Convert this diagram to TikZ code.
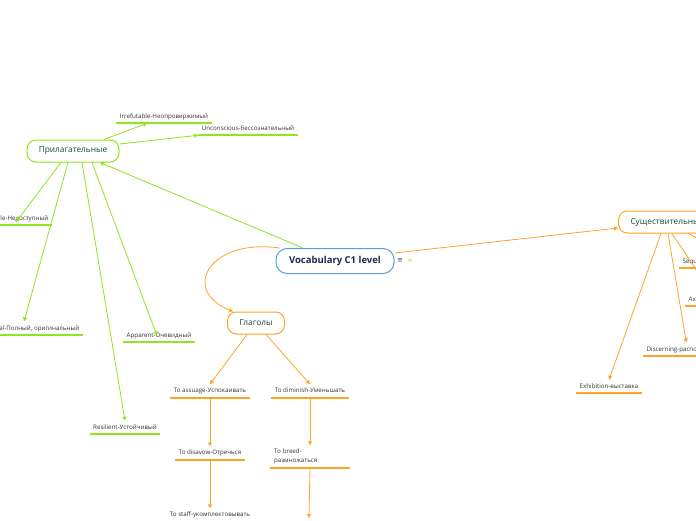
\documentclass[tikz,border=0pt]{standalone}
\usepackage{fontspec}
\setmainfont{Open Sans}
\newfontfamily\symfont{DejaVu Sans}
\usepackage{xcolor}
\usepackage{tikz}
\usetikzlibrary{arrows.meta,positioning}
\definecolor{Lime}{RGB}{143,229,32}
\definecolor{Amber}{RGB}{255,163,40}
\definecolor{Sky}{RGB}{88,160,218}
\definecolor{Navy}{RGB}{26,42,84}
\definecolor{Pine}{RGB}{24,72,58}
\definecolor{Ink}{RGB}{51,51,51}
\definecolor{Slate}{RGB}{70,80,100}
\tikzset{
  rootbox/.style={draw=Sky,line width=1pt,rounded corners=11pt,fill=white,minimum width=118pt,minimum height=25pt,font=\bfseries\fontsize{9.5}{11}\selectfont,text=Navy},
  hub/.style={rounded corners=9pt,fill=white,line width=1pt,minimum height=22pt,font=\fontsize{8.3}{9}\selectfont,text=Pine},
  limehub/.style={hub,draw=Lime},
  amberhub/.style={hub,draw=Amber},
  leaf/.style={inner xsep=3.5pt,inner ysep=3.5pt,text height=4.8pt,text depth=1.3pt,font=\fontsize{6.2}{9}\selectfont,text=Ink},
  limeleaf/.style={leaf,append after command={(\tikzlastnode.south west) edge[draw=Lime,line width=1.6pt] (\tikzlastnode.south east)}},
  amberleaf/.style={leaf,append after command={(\tikzlastnode.south west) edge[draw=Amber,line width=1.6pt] (\tikzlastnode.south east)}},
  limelink/.style={-{Triangle[length=4pt,width=4pt]},line width=0.8pt,draw=Lime},
  amberlink/.style={-{Triangle[length=4pt,width=4pt]},line width=0.8pt,draw=Amber}
}
\begin{document}
\begin{tikzpicture}[x=1pt,y=-1pt,node distance=48.5pt]
\useasboundingbox (0,0) rectangle (696,520);
\clip (0,0) rectangle (696,520);
\node[rootbox] (root) at (335,261) {Vocabulary C1 level};
\node[font=\symfont\fontsize{7}{7}\selectfont,text=Slate] (menuicon) at (400,261) {≡};
\node[font=\symfont\fontsize{6}{6}\selectfont,text=Lime] (linkicon) at (410,261) {∞};
% adjectives
\node[limehub,minimum width=92pt] (adj) at (73,151) {Прилагательные};
\node[limeleaf] (irref) at (164,116.5) {Irrefutable-Неопровержимый};
\node[limeleaf] (uncon) at (248,128.5) {Unconscious-бессознательный};
\node[limeleaf,anchor=south east] (inacc) at (52,225) {Inaccessible-Недоступный};
\node[limeleaf,anchor=south east] (integ) at (83,335) {Integral-Полный, оригинальный};
\node[limeleaf] (appar) at (159,335.5) {Apparent-Очевидный};
\node[limeleaf] (resil) at (125,427.5) {Resilient-Устойчивый};
% verbs
\node[amberhub,minimum width=57pt] (verb) at (256,323) {Глаголы};
\node[amberleaf] (assuage) at (210,391) {To assuage-Успокаивать};
\node[amberleaf] (diminish) at (310,391) {To diminish-Уменьшать};
\node[amberleaf,below=of assuage] (disavow) {To disavow-Отречься};
\node[amberleaf,below=of disavow] (staff) {To staff-укомплектовывать};
\node[amberleaf,below=47.5pt of diminish,text width=72pt,align=left,text height=,text depth=] (breed) {To breed-\\размножаться};
\coordinate (breednext) at (309,518);
% nouns
\node[amberhub,anchor=west,inner xsep=12pt] (noun) at (618,222) {Существительные};
\node[amberleaf] (exhib) at (609,386.5) {Exhibition-выставка};
\node[amberleaf,anchor=south west] (discern) at (643,356) {Discerning-распознающий};
\node[amberleaf,anchor=south west] (sequ) at (679,268) {Sequence-последовательность};
\node[amberleaf,anchor=south west] (axiom) at (685,306) {Axiom-аксиома};

\draw[limelink] ([xshift=-32]root.north) -- ([xshift=27]adj.south);
\draw[amberlink] ([xshift=4]root.north west) .. controls (210,238) and (180,290) .. ([xshift=-23]verb.north);
\draw[amberlink] ([yshift=8]root.east) -- ([yshift=-6]noun.west);

\draw[limelink] ([xshift=31]adj.north) -- ([xshift=-17]irref.south);
\draw[limelink] ([yshift=7]adj.east) -- (uncon.south west);
\draw[limelink] ([xshift=-12]adj.south) -- ([xshift=-36,yshift=3]inacc.south east);
\draw[limelink] ([xshift=-5]adj.south) -- ([xshift=-59]integ.north east);
\draw[limelink] ([xshift=19]adj.south) -- ([xshift=-2]appar.center);
\draw[limelink] ([xshift=9]adj.south) -- (resil.north);

\draw[amberlink] ([xshift=-9]verb.south) -- (assuage.north);
\draw[amberlink] ([xshift=10]verb.south) -- (diminish.north);
\draw[amberlink] (assuage.south) -- (disavow.north);
\draw[amberlink] (disavow.south) -- (staff.north);
\draw[amberlink] (diminish.south) -- (breed.north);
\draw[amberlink] (breed.south) -- (breednext);

\draw[amberlink] ([xshift=43]noun.south west) -- (exhib.north);
\draw[amberlink] ([xshift=50]noun.south west) -- (discern.north);
\draw[amberlink] ([xshift=54]noun.south west) -- (axiom.north);
\draw[amberlink] ([xshift=70]noun.south west) -- (sequ.north);
\end{tikzpicture}
\end{document}
